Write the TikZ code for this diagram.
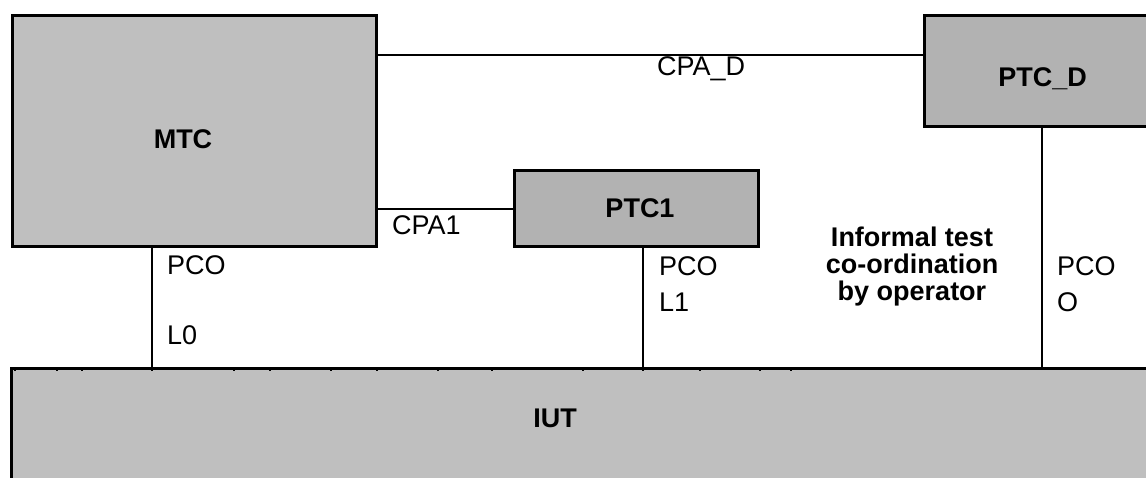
\documentclass[tikz,border=0pt]{standalone}
\usepackage{fontspec}
\setmainfont{Liberation Sans}
\definecolor{boxgray}{HTML}{BFBFBF}
\definecolor{ptcgray}{HTML}{B2B2B2}
\begin{document}
\begin{tikzpicture}[x=1pt,y=-1pt,
  box/.style={draw=black, line width=3pt, rectangle, inner sep=0pt},
  conn/.style={draw=black, line width=1.5pt},
  smalltick/.style={draw=black, line width=1.5pt},
  lbl/.style={font=\fontsize{27}{27}\selectfont, inner sep=0pt, anchor=base west},
  blbl/.style={font=\fontsize{27}{27}\selectfont\bfseries, inner sep=0pt, anchor=base}]
\useasboundingbox (0,0) rectangle (1146,477);
\clip (0,0) rectangle (1146,477);
\fill[white] (0,0) rectangle (1146,477);
% boxes
\node[box, fill=boxgray, minimum width=364pt, minimum height=231pt] (mtc) at (194.5,131) {};
\node[box, fill=ptcgray, minimum width=244pt, minimum height=76pt] (ptc1) at (636.5,208.5) {};
\node[box, fill=ptcgray, minimum width=237pt, minimum height=111pt] (ptcd) at (1043,71) {};
\node[box, fill=boxgray, minimum width=1188.5pt, minimum height=151.5pt] (iut) at (605.75,444.25) {};
% connectors
\draw[conn] (mtc.east |- 0,55) -- (ptcd.west |- 0,55);
\draw[conn] (mtc.east |- 0,209) -- (ptc1.west |- 0,209);
\draw[conn] (mtc.south -| 152,0) -- (iut.north -| 152,0);
\draw[conn] (ptc1.south -| 643,0) -- (iut.north -| 643,0);
\draw[conn] (ptcd.south -| 1042,0) -- (iut.north -| 1042,0);
% small ticks on box edges
\foreach \t in {55,153,269} \draw[smalltick] (\t,15) -- (\t,17);
\foreach \t in {53,128,169,208} \draw[smalltick] (12,\t) -- (14,\t);
\draw[smalltick] (643,170) -- (643,172);
\draw[smalltick] (1041,15) -- (1041,17);
\foreach \t in {15,57,82,152,234,270,331,377,438,492,583,643,700,760,791} \draw[smalltick] (\t,369) -- (\t,371);
% titles
\node[blbl] (tmtc) at (183,148) {MTC};
\node[blbl] (tptc1) at (640,217) {PTC1};
\node[blbl] (tptcd) at (1042.5,86) {PTC\_D};
\node[blbl] (tiut) at (555,427) {IUT};
% labels
\node[lbl] (lcpad) at (657,75) {CPA\_D};
\node[lbl] (lcpa1) at (392,234) {CPA1};
\node[lbl] (lpco0) at (167,274) {PCO};
\node[lbl] (ll0) at (167,344) {L0};
\node[lbl] (lpco1) at (659,275) {PCO};
\node[lbl] (ll1) at (659,311) {L1};
\node[lbl] (lpcoo) at (1057,275) {PCO};
\node[lbl] (lo) at (1057,311) {O};
\node[font=\fontsize{27}{27}\selectfont\bfseries, inner sep=0pt, align=center, anchor=north] (info) at (912,227) {Informal test\\co-ordination\\by operator};
\end{tikzpicture}
\end{document}
